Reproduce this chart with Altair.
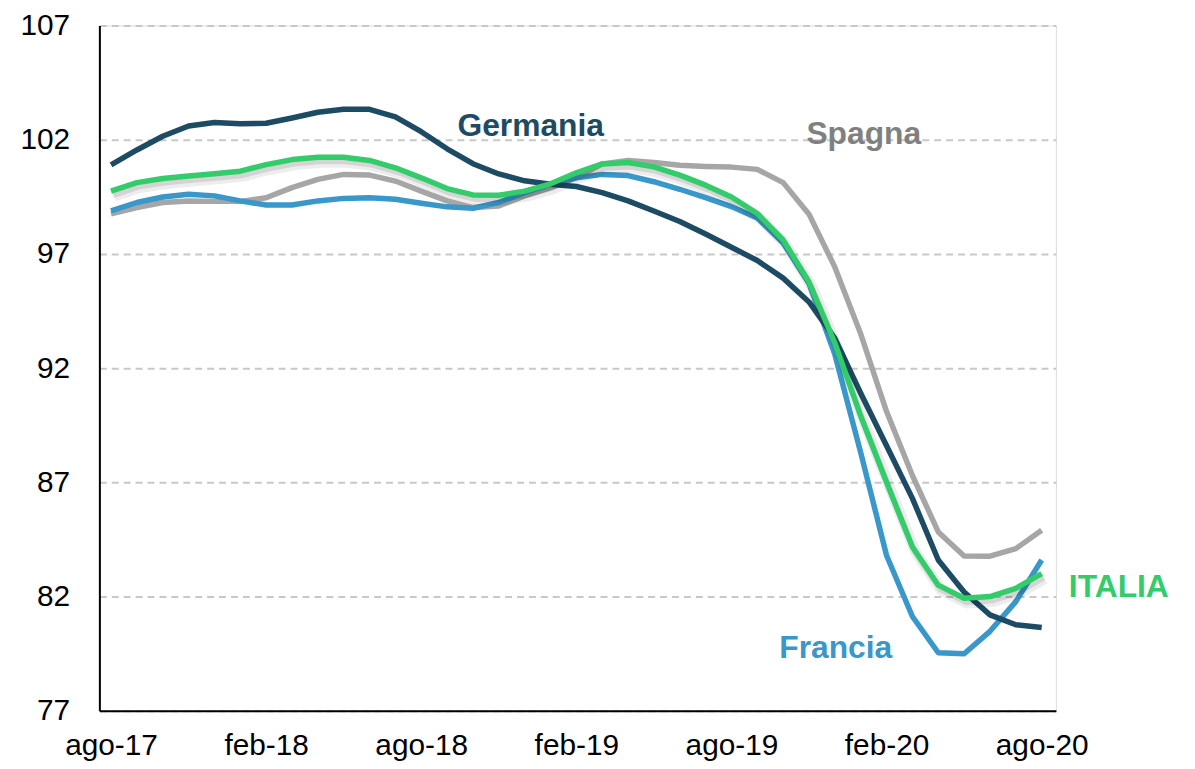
import json
import altair as alt
import pandas as pd

# ---- data (monthly, ago-17 .. ago-20) ----
months = ["ago-17", "set-17", "ott-17", "nov-17", "dic-17", "gen-18", "feb-18", "mar-18",
          "apr-18", "mag-18", "giu-18", "lug-18", "ago-18", "set-18", "ott-18", "nov-18",
          "dic-18", "gen-19", "feb-19", "mar-19", "apr-19", "mag-19", "giu-19", "lug-19",
          "ago-19", "set-19", "ott-19", "nov-19", "dic-19", "gen-20", "feb-20", "mar-20",
          "apr-20", "mag-20", "giu-20", "lug-20", "ago-20"]
tick_positions = [0, 6, 12, 18, 24, 30, 36]

germania = [100.9, 101.55, 102.15, 102.6, 102.75, 102.7, 102.72, 102.95, 103.2, 103.33,
            103.33, 103.0, 102.35, 101.6, 100.95, 100.5, 100.2, 100.05, 99.95, 99.68,
            99.32, 98.88, 98.42, 97.87, 97.29, 96.71, 95.94, 94.9, 93.3, 90.9,
            88.6, 86.3, 83.6, 82.2, 81.2, 80.77, 80.65]
spagna = [98.75, 99.03, 99.25, 99.32, 99.3, 99.3, 99.46, 99.9, 100.26, 100.48,
          100.45, 100.19, 99.75, 99.32, 99.03, 99.1, 99.54, 99.9, 100.35, 100.94,
          101.09, 101.0, 100.88, 100.83, 100.8, 100.7, 100.12, 98.74, 96.42, 93.5,
          90.1, 87.3, 84.83, 83.78, 83.77, 84.1, 84.9]
francia = [98.88, 99.25, 99.49, 99.61, 99.54, 99.32, 99.14, 99.14, 99.32, 99.43,
           99.46, 99.39, 99.22, 99.06, 99.0, 99.25, 99.68, 100.04, 100.33, 100.48,
           100.43, 100.16, 99.83, 99.46, 99.07, 98.57, 97.48, 95.7, 92.6, 88.3,
           83.8, 81.13, 79.54, 79.5, 80.48, 81.78, 83.6]
italia = [99.75, 100.12, 100.3, 100.41, 100.51, 100.62, 100.91, 101.13, 101.23, 101.23,
          101.09, 100.77, 100.33, 99.86, 99.58, 99.57, 99.75, 100.07, 100.55, 100.94,
          101.0, 100.81, 100.45, 100.01, 99.49, 98.77, 97.61, 95.77, 93.1, 89.9,
          87.0, 84.17, 82.5, 81.93, 82.0, 82.36, 83.0]

series_names = ["Spagna", "Francia", "Germania", "ITALIA"]
series_colors = ["#A6A6A6", "#3A97C9", "#1C4B63", "#33CC6A"]
label_colors = ["#808080", "#3A97C9", "#1C4B63", "#33CC6A"]
label_texts = ["Spagna", "Francia", "Germania", "ITALIA"]
label_x = [26.9, 25.85, 13.4, 37.05]
label_y = [101.83, 79.3, 102.17, 82.0]

y_ticks = [77, 82, 87, 92, 97, 102, 107]

rows = []
for name, vals in zip(series_names, [spagna, francia, germania, italia]):
    for i, v in enumerate(vals):
        rows.append({"idx": i, "mese": months[i], "paese": name, "valore": v})
df = pd.DataFrame(rows)

labels_df = pd.DataFrame({"text": label_texts, "x": label_x, "y": label_y, "color": label_colors})

FONT = "Liberation Sans"
label_expr = json.dumps(months) + "[datum.value]"

x_enc = alt.X("idx:Q",
              scale=alt.Scale(domain=[-0.45, 36.55], nice=False, zero=False),
              axis=alt.Axis(values=tick_positions, labelExpr=label_expr, title=None,
                            grid=False, ticks=False, domain=True, domainColor="#000000",
                            domainWidth=2, labelFont=FONT, labelFontSize=30,
                            labelColor="#000000", labelPadding=20, labelFlush=False))
y_enc = alt.Y("valore:Q",
              scale=alt.Scale(domain=[77, 107], nice=False, zero=False),
              axis=alt.Axis(values=y_ticks, title=None, grid=True, gridDash=[7, 5],
                            gridColor="#C8C8C8", gridWidth=2, ticks=False, domain=True,
                            domainColor="#000000", domainWidth=2, labelFont=FONT,
                            labelFontSize=30, labelColor="#000000", labelPadding=30))

base = alt.Chart(df)
layers = []
for name, col in zip(series_names, series_colors):
    sub = base.transform_filter(alt.datum.paese == name)
    if name == "ITALIA":
        layers.append(sub.mark_line(color="#000000", opacity=0.07, strokeWidth=11,
                                    xOffset=3, yOffset=5, strokeJoin="round")
                      .encode(x=x_enc, y=y_enc))
        layers.append(sub.mark_line(color="#000000", opacity=0.1, strokeWidth=6,
                                    xOffset=2, yOffset=4, strokeJoin="round")
                      .encode(x=x_enc, y=y_enc))
    layers.append(sub.mark_line(color=col, strokeWidth=5.5, strokeJoin="round")
                  .encode(x=x_enc, y=y_enc))

text_layer = alt.Chart(labels_df).mark_text(
    font=FONT, fontSize=32, fontWeight="bold", align="left", baseline="alphabetic"
).encode(
    x=alt.X("x:Q"),
    y=alt.Y("y:Q"),
    text="text:N",
    color=alt.Color("color:N", scale=None),
)

chart = alt.layer(*layers, text_layer).properties(
    width=963, height=690,
    autosize=alt.AutoSizeParams(type="none"),
    padding={"left": 92, "top": 15, "right": 132, "bottom": 56},
).configure_view(stroke=None).configure(background="white")

chart.save("out.html", embed_options={"renderer": "svg", "actions": False})
